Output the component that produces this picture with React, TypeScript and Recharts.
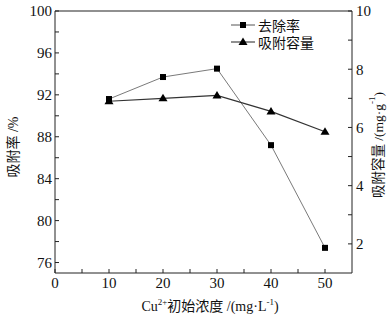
import React from "react";
import {
  ComposedChart,
  Line,
  XAxis,
  YAxis,
  ReferenceLine,
  Label,
} from "recharts";

// drop the default body margin so the chart sits at 0,0
if (typeof document !== "undefined") document.body.style.margin = "0";

// Cu2+ initial concentration (mg/L)
const concentrations = [10, 20, 30, 40, 50];
// removal rate (%) - left axis
const removalRate = [91.6, 93.7, 94.5, 87.2, 77.4];
// adsorption capacity (mg/g) - right axis
const adsorptionCapacity = [6.9, 7.0, 7.1, 6.55, 5.85];

const xTicks = [0, 5, 10, 15, 20, 25, 30, 35, 40, 45, 50];
const leftTicks = [76, 78, 80, 82, 84, 86, 88, 90, 92, 94, 96, 98, 100];
const rightTicks = [2, 3, 4, 5, 6, 7, 8, 9, 10];

const seriesNames = ["去除率", "吸附容量"];

const data = concentrations.map((c, i) => ({
  c,
  rate: removalRate[i],
  capacity: adsorptionCapacity[i],
}));

const numFont = "'Liberation Serif', 'DejaVu Serif', serif";
const cjkFont = "'Liberation Serif', 'Noto Sans CJK SC', serif";
const ink = "#222";

function SquareDot(props: any) {
  const { cx, cy, index } = props;
  return <rect key={`sq-${index}`} x={cx - 3} y={cy - 3} width={6} height={6} fill="#000" />;
}

function TriangleDot(props: any) {
  const { cx, cy, index } = props;
  return (
    <path
      key={`tr-${index}`}
      d={`M${cx},${cy - 4.5} L${cx + 4.5},${cy + 3} L${cx - 4.5},${cy + 3} Z`}
      fill="#000"
    />
  );
}

// legend drawn as an overlay so it doesn't eat plot space
function LegendBox() {
  const row = (name: string, kind: "sq" | "tr", color: string) => (
    <div style={{ display: "flex", alignItems: "center", height: 17 }}>
      <svg width={26} height={12}>
        <line x1={0} y1={6} x2={24} y2={6} stroke={color} strokeWidth={1} />
        {kind === "sq" ? (
          <rect x={9} y={3} width={6} height={6} fill="#000" />
        ) : (
          <path d="M12,1.5 L16.5,9 L7.5,9 Z" fill="#000" />
        )}
      </svg>
      <span style={{ marginLeft: 1 }}>{name}</span>
    </div>
  );
  return (
    <div
      style={{
        position: "absolute",
        top: 16,
        left: 231,
        fontFamily: cjkFont,
        fontSize: 14,
        color: "#111",
      }}
    >
      {row(seriesNames[0], "sq", "#555")}
      {row(seriesNames[1], "tr", "#222")}
    </div>
  );
}

function XTitle() {
  return (
    <text x={210} y={311} textAnchor="middle" fill="#111" fontSize={14} fontFamily={cjkFont}>
      Cu
      <tspan fontSize={9} dy={-6}>2+</tspan>
      <tspan dy={6}>初始浓度 /(mg·L</tspan>
      <tspan fontSize={9} dy={-6}>-1</tspan>
      <tspan dy={6}>)</tspan>
    </text>
  );
}

function LeftTitle() {
  const cx = 13;
  const cy = 147;
  return (
    <text
      x={cx}
      y={cy}
      transform={`rotate(-90 ${cx} ${cy})`}
      textAnchor="middle"
      dominantBaseline="central"
      fill="#111"
      fontSize={14}
      fontFamily={cjkFont}
    >
      吸附率 /%
    </text>
  );
}

function RightTitle() {
  const cx = 378;
  const cy = 145;
  return (
    <text
      x={cx}
      y={cy}
      transform={`rotate(-90 ${cx} ${cy})`}
      textAnchor="middle"
      dominantBaseline="central"
      fill="#111"
      fontSize={13.5}
      fontFamily={cjkFont}
    >
      吸附容量 /(mg·g
      <tspan fontSize={9} dy={-6}>-1</tspan>
      <tspan dy={6}>)</tspan>
    </text>
  );
}

export default function App() {
  return (
    <div style={{ position: "relative", width: 390, height: 318, background: "#fff" }}>
      <ComposedChart
        width={390}
        height={318}
        data={data}
        margin={{ top: 11, right: 0, bottom: 0, left: 0 }}
      >
        <XAxis
          type="number"
          dataKey="c"
          domain={[0, 55]}
          ticks={xTicks}
          allowDataOverflow
          height={45}
          stroke={ink}
          tickSize={-4}
          tickMargin={8}
          tick={{ fill: "#111", fontSize: 15, fontFamily: numFont }}
          tickFormatter={(v: number) => (v % 10 === 0 ? String(v) : "")}
        >
          <Label content={() => <XTitle />} />
        </XAxis>
        <YAxis
          yAxisId="left"
          domain={[75, 100]}
          ticks={leftTicks}
          allowDataOverflow
          width={55}
          stroke={ink}
          tickSize={-4}
          tickMargin={7}
          tick={{ fill: "#111", fontSize: 15, fontFamily: numFont }}
          tickFormatter={(v: number) => ((v - 76) % 4 === 0 ? String(v) : "")}
        >
          <Label content={() => <LeftTitle />} />
        </YAxis>
        <YAxis
          yAxisId="right"
          orientation="right"
          domain={[1, 10]}
          ticks={rightTicks}
          allowDataOverflow
          width={38}
          stroke={ink}
          tickSize={-4}
          tickMargin={8}
          tick={{ fill: "#111", fontSize: 15, fontFamily: numFont }}
          tickFormatter={(v: number) => (v % 2 === 0 ? String(v) : "")}
        >
          <Label content={() => <RightTitle />} />
        </YAxis>
        <ReferenceLine yAxisId="left" y={100} stroke={ink} strokeWidth={1.2} />
        <Line
          yAxisId="left"
          dataKey="rate"
          name={seriesNames[0]}
          stroke="#7a7a7a"
          strokeWidth={1}
          dot={SquareDot}
          activeDot={false}
          isAnimationActive={false}
        />
        <Line
          yAxisId="right"
          dataKey="capacity"
          name={seriesNames[1]}
          stroke="#333"
          strokeWidth={1.2}
          dot={TriangleDot}
          activeDot={false}
          isAnimationActive={false}
        />
      </ComposedChart>
      <LegendBox />
    </div>
  );
}
